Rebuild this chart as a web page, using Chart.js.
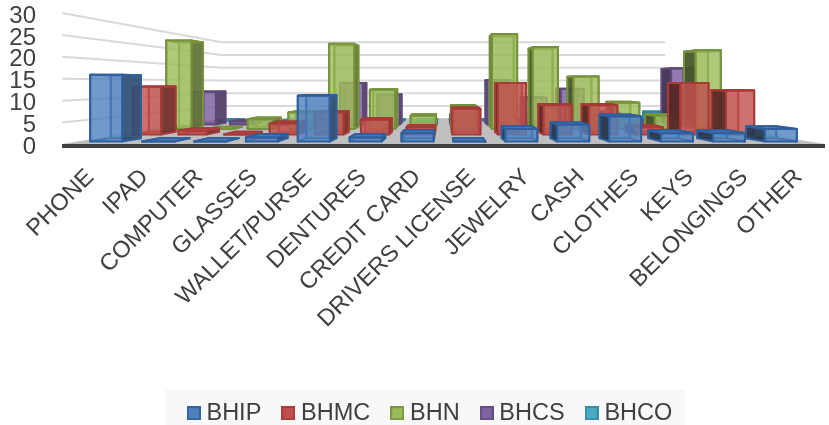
<!DOCTYPE html>
<html>
<head>
<meta charset="utf-8">
<style>
  html, body { margin: 0; background: #fff; }
  canvas { display: block; }
</style>
<script src="https://cdn.jsdelivr.net/npm/chart.js@4/dist/chart.umd.min.js"></script>
</head>
<body>
<canvas id="chart" width="829" height="425"></canvas>
<script>
const categories = ["PHONE", "IPAD", "COMPUTER", "GLASSES", "WALLET/PURSE", "DENTURES", "CREDIT CARD",
  "DRIVERS LICENSE", "JEWELRY", "CASH", "CLOTHES", "KEYS", "BELONGINGS", "OTHER"];
const yTicks = [0, 5, 10, 15, 20, 25, 30];

const BHIP = [16, 0, 0, 1, 11, 1, 2, 0, 3, 4, 6, 2, 2, 3];
const BHMC = [13, 1, 0, 3, 6, 4, 2, 7, 14, 8, 8, 2, 14, 12];
const BHN = [27, 0, 3, 5, 26, 12, 4, 7, 29, 25, 16, 8, 4, 24];
const BHCS = [11, 1, 0, 0, 14, 10, 0, 3, 15, 9, 12, 4, 1, 19];
const BHCO = [0, 0, 0, 0, 0, 0, 0, 0, 0, 0, 0, 0, 0, 3];

const seriesNames = ["BHIP", "BHMC", "BHN", "BHCS", "BHCO"];
const seriesValues = [BHIP, BHMC, BHN, BHCS, BHCO];
const fills = ["79,129,189", "192,80,77", "155,187,89", "128,100,162", "75,172,198"];
const edges = ["#2f5f9e", "#a83a38", "#76923c", "#5f497a", "#2f87a0"];

// vanishing point of the fake 3d view, depth 0 = front edge of the floor, 1 = back wall
const vpX = 443.5, vpY = 83, persp = 0.72;
const barShare = 0.617;

function project(x, y, d) {
  const s = 1 / (1 + d * persp);
  return [vpX + (x - vpX) * s, vpY + (y - vpY) * s];
}

function quad(ctx, pts, fill, stroke) {
  ctx.beginPath();
  pts.forEach((p, i) => i ? ctx.lineTo(p[0], p[1]) : ctx.moveTo(p[0], p[1]));
  ctx.closePath();
  ctx.fillStyle = fill;
  ctx.fill();
  ctx.strokeStyle = stroke;
  ctx.stroke();
}

function drawBox(ctx, x0, x1, yTop, yBase, d0, d1, rgb, edge) {
  const fl = [project(x0, yBase, d0), project(x1, yBase, d0), project(x1, yTop, d0), project(x0, yTop, d0)];
  const bk = [project(x0, yBase, d1), project(x1, yBase, d1), project(x1, yTop, d1), project(x0, yTop, d1)];
  const leftOfCentre = (x0 + x1) / 2 < vpX;
  const shade = leftOfCentre ? 0.6 : 0.42;
  const c = 'rgba(' + rgb + ',';
  const dark = 'rgba(' + rgb.split(',').map(v => Math.round(v * shade)).join(',') + ',';
  const nearI = leftOfCentre ? [1, 2] : [0, 3];
  const farI = leftOfCentre ? [0, 3] : [1, 2];
  ctx.lineWidth = 2;
  ctx.lineJoin = 'round';
  quad(ctx, bk, c + '0.45)', edge);
  quad(ctx, [fl[farI[0]], bk[farI[0]], bk[farI[1]], fl[farI[1]]], c + '0.3)', edge);
  quad(ctx, [fl[nearI[0]], bk[nearI[0]], bk[nearI[1]], fl[nearI[1]]], dark + '0.88)', edge);
  quad(ctx, [fl[3], fl[2], bk[2], bk[3]], c + '0.9)', edge);
  quad(ctx, fl, c + '0.72)', edge);
}

const scene3d = {
  id: 'scene3d',
  beforeDraw(chart) {
    const ctx = chart.ctx;
    ctx.save();
    ctx.fillStyle = '#f8f8f8';
    ctx.fillRect(165, 390, 520, 35);
    ctx.restore();
  },
  afterLayout(chart) {
    chart.legend.top += 10;
    chart.legend.bottom += 10;
    chart.legend.left += 20;
    chart.legend.right += 20;
  },
  beforeDatasetsDraw(chart) {
    const ctx = chart.ctx, xs = chart.scales.x, ys = chart.scales.y;
    const left = xs.left, right = xs.right, base = ys.getPixelForValue(0);
    ctx.save();
    // floor
    const a = project(left, base, 0), b = project(right, base, 0), c = project(right, base, 1), e = project(left, base, 1);
    ctx.lineWidth = 1;
    quad(ctx, [a, b, c, e], '#bfbfbf', '#bfbfbf');
    // gridlines on the side and back wall
    ctx.strokeStyle = '#d9d9d9';
    ctx.lineWidth = 2;
    ys.ticks.forEach(t => {
      if (t.value === 0) return;
      const y = ys.getPixelForValue(t.value);
      const p0 = project(left, y, 0), p1 = project(left, y, 1), p2 = project(right, y, 1);
      ctx.beginPath();
      ctx.moveTo(p0[0], p0[1]);
      ctx.lineTo(p1[0], p1[1]);
      ctx.lineTo(p2[0], p2[1]);
      ctx.stroke();
    });
    // back series first, then forward
    const catW = (right - left) / categories.length;
    for (let i = seriesValues.length - 1; i >= 0; i--) {
      const d0 = 0.07 + 0.2 * i, d1 = d0 + 0.09;
      const order = categories.map((_, k) => k).sort((p, q) =>
        Math.abs(xs.getPixelForValue(q) - vpX) - Math.abs(xs.getPixelForValue(p) - vpX));
      order.forEach(k => {
        const cx = xs.getPixelForValue(k);
        drawBox(ctx, cx - catW * barShare / 2, cx + catW * barShare / 2,
          ys.getPixelForValue(seriesValues[i][k]), base, d0, d1, fills[i], edges[i]);
      });
    }
    // dark front edge of the floor
    ctx.strokeStyle = '#404040';
    ctx.lineWidth = 4;
    ctx.beginPath();
    ctx.moveTo(left, base + 1.5);
    ctx.lineTo(right, base + 1.5);
    ctx.stroke();
    ctx.restore();
    return false;
  }
};

function legendSwatch(i) {
  const cv = document.createElement('canvas');
  cv.width = 14; cv.height = 14;
  const g = cv.getContext('2d');
  g.fillStyle = 'rgb(' + fills[i] + ')';
  g.fillRect(0, 0, 14, 14);
  g.globalAlpha = 0.85;
  g.strokeStyle = edges[i];
  g.lineWidth = 2;
  g.strokeRect(1, 1, 12, 12);
  return cv;
}

new Chart(document.getElementById('chart'), {
  type: 'bar',
  data: {
    labels: categories,
    datasets: seriesNames.map((name, i) => ({
      label: name,
      data: seriesValues[i],
      backgroundColor: 'rgb(' + fills[i] + ')',
      borderColor: edges[i]
    }))
  },
  plugins: [scene3d],
  options: {
    responsive: false,
    animation: false,
    layout: { autoPadding: false, padding: { top: 13, right: 4, left: 0, bottom: 0 } },
    scales: {
      x: {
        grid: { display: false },
        border: { display: false },
        afterFit: s => { s.height = 221; },
        ticks: {
          autoSkip: false,
          minRotation: 45,
          maxRotation: 45,
          padding: 11,
          labelOffset: 1,
          color: '#404040',
          font: { family: 'Liberation Sans', size: 23.5 }
        }
      },
      y: {
        min: 0,
        max: 30,
        afterFit: s => { s.width = 62; s.paddingTop = 0; s.paddingBottom = 0; },
        afterBuildTicks: s => { s.ticks = yTicks.map(v => ({ value: v })); },
        grid: { display: false },
        border: { display: false },
        ticks: {
          autoSkip: false,
          padding: 18,
          labelOffset: 3,
          color: '#404040',
          font: { family: 'Liberation Sans', size: 24 }
        }
      }
    },
    plugins: {
      tooltip: { enabled: false },
      legend: {
        position: 'bottom',
        labels: {
          usePointStyle: true,
          pointStyleWidth: 2,
          padding: 26,
          color: '#404040',
          font: { family: 'Liberation Sans', size: 23.5 },
          generateLabels(chart) {
            return Chart.defaults.plugins.legend.labels.generateLabels(chart)
              .map((l, i) => Object.assign(l, { pointStyle: legendSwatch(i) }));
          }
        }
      }
    }
  }
});
</script>
</body>
</html>
